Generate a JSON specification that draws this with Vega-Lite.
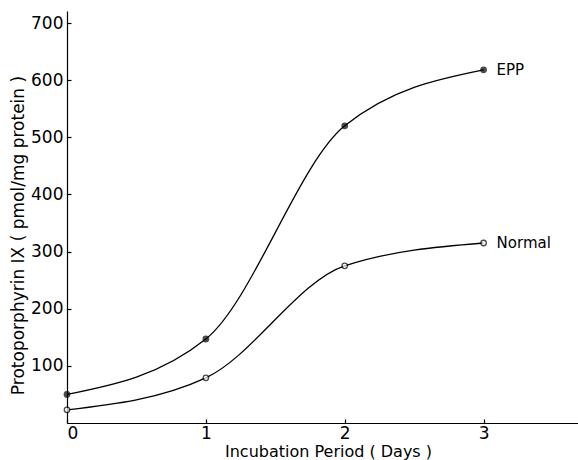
{
  "$schema": "https://vega.github.io/schema/vega-lite/v6.json",
  "width": 511,
  "height": 412,
  "autosize": {"type": "none"},
  "padding": {"left": 67, "top": 11, "right": 0, "bottom": 37},
  "background": "white",
  "config": {
    "view": {"stroke": null},
    "font": "DejaVu Sans",
    "axis": {
      "grid": false,
      "domainColor": "black",
      "domainWidth": 1.2,
      "tickColor": "black",
      "tickWidth": 1.2,
      "labelColor": "black",
      "titleColor": "black",
      "labelFont": "DejaVu Sans",
      "titleFont": "DejaVu Sans",
      "labelFontSize": 17,
      "titleFontWeight": "normal"
    }
  },
  "data": {
    "values": [
      {"day": 0, "value": 50, "group": "EPP"},
      {"day": 1, "value": 147, "group": "EPP"},
      {"day": 2, "value": 520, "group": "EPP"},
      {"day": 3, "value": 618, "group": "EPP"},
      {"day": 0, "value": 23, "group": "Normal"},
      {"day": 1, "value": 79, "group": "Normal"},
      {"day": 2, "value": 275, "group": "Normal"},
      {"day": 3, "value": 315, "group": "Normal"}
    ]
  },
  "encoding": {
    "x": {
      "field": "day",
      "type": "quantitative",
      "scale": {"domain": [0, 3.68], "nice": false, "zero": false},
      "axis": {
        "values": [0, 1, 2, 3],
        "title": "Incubation Period ( Days )",
        "titleFontSize": 16,
        "titleX": 261,
        "tickSize": -4,
        "labelPadding": 6,
        "titlePadding": 2
      }
    },
    "y": {
      "field": "value",
      "type": "quantitative",
      "scale": {"domain": [0, 721], "nice": false},
      "axis": {
        "values": [100, 200, 300, 400, 500, 600, 700],
        "title": "Protoporphyrin IX ( pmol/mg protein )",
        "titleFontSize": 17,
        "titleY": 224,
        "tickSize": -4,
        "labelPadding": 8,
        "titlePadding": 3
      }
    }
  },
  "layer": [
    {
      "mark": {"type": "line", "interpolate": "monotone", "color": "black", "strokeWidth": 1.3},
      "encoding": {"detail": {"field": "group"}}
    },
    {
      "mark": {"type": "point", "filled": true, "size": 30, "strokeWidth": 1.3},
      "encoding": {
        "fill": {
          "field": "group",
          "scale": {"domain": ["EPP", "Normal"], "range": ["black", "white"]},
          "legend": null
        },
        "stroke": {"value": "black"},
        "shape": {"value": "circle"}
      }
    },
    {
      "transform": [{"filter": "datum.day == 3"}],
      "mark": {"type": "text", "align": "left", "dx": 13, "fontSize": 15, "font": "DejaVu Sans", "color": "black"},
      "encoding": {"text": {"field": "group"}}
    }
  ]
}
